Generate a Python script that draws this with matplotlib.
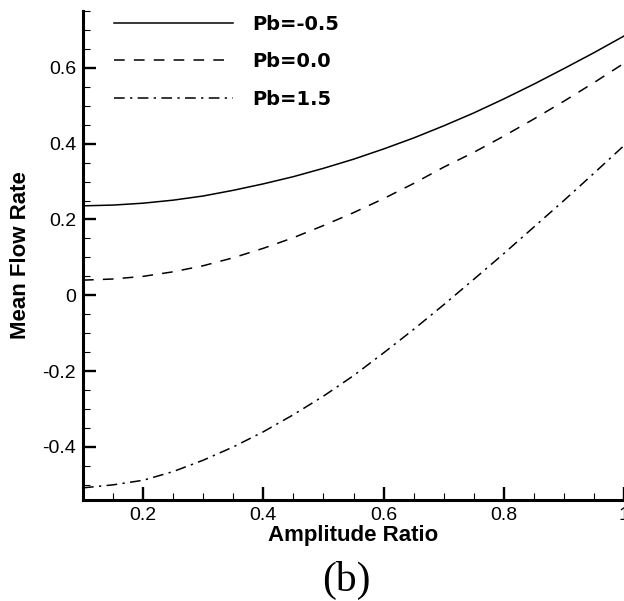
import matplotlib
matplotlib.use("Agg")
import matplotlib.pyplot as plt
from matplotlib.ticker import MultipleLocator, FuncFormatter

amplitude_ratio = [0.10, 0.15, 0.20, 0.25, 0.30, 0.35, 0.40, 0.45, 0.50, 0.55,
                   0.60, 0.65, 0.70, 0.75, 0.80, 0.85, 0.90, 0.95, 1.00]
flow_pb_m05 = [0.236, 0.238, 0.243, 0.251, 0.262, 0.277, 0.294, 0.313, 0.335, 0.359,
               0.386, 0.415, 0.447, 0.481, 0.518, 0.557, 0.598, 0.640, 0.684]
flow_pb_00 = [0.040, 0.043, 0.050, 0.062, 0.078, 0.099, 0.124, 0.152, 0.184, 0.218,
              0.255, 0.295, 0.338, 0.377, 0.420, 0.465, 0.512, 0.561, 0.612]
flow_pb_15 = [-0.508, -0.500, -0.488, -0.465, -0.435, -0.400, -0.360, -0.315, -0.266, -0.212,
              -0.152, -0.090, -0.025, 0.042, 0.110, 0.180, 0.250, 0.322, 0.395]
labels = ["Pb=-0.5", "Pb=0.0", "Pb=1.5"]

plt.rcParams['font.family'] = ['Liberation Sans', 'DejaVu Sans']

fig = plt.figure(figsize=(6.24, 6.01), dpi=100)
ax = fig.add_axes([83/624, 1-500/601, 1-83/624, (500-11)/601])

ax.plot(amplitude_ratio, flow_pb_m05, color='black', lw=1.1, ls='-', label=labels[0])
ax.plot(amplitude_ratio, flow_pb_00, color='black', lw=1.1, ls=(0, (7, 6)), label=labels[1])
ax.plot(amplitude_ratio, flow_pb_15, color='black', lw=1.1, ls=(0, (7, 3.5, 1.5, 3.5)), label=labels[2])

ax.set_xlim(0.1, 1.0)
ax.set_ylim(-0.54, 0.75)
ax.xaxis.set_major_locator(MultipleLocator(0.2))
ax.xaxis.set_minor_locator(MultipleLocator(0.05))
ax.yaxis.set_major_locator(MultipleLocator(0.2))
ax.yaxis.set_minor_locator(MultipleLocator(0.05))

def fmt(v, pos):
    if abs(v) < 1e-9:
        return "0"
    if abs(v - 1.0) < 1e-9:
        return "1"
    return f"{v:.1f}"
ax.xaxis.set_major_formatter(FuncFormatter(fmt))
ax.yaxis.set_major_formatter(FuncFormatter(fmt))

for s in ['top', 'right']:
    ax.spines[s].set_visible(False)
for s in ['left', 'bottom']:
    ax.spines[s].set_linewidth(2.2)

ax.tick_params(which='major', direction='in', length=9.5, width=1.7, labelsize=14)
ax.tick_params(which='minor', direction='in', length=5, width=0.8)
ax.tick_params(axis='y', which='major', pad=5)
ax.tick_params(axis='x', which='major', pad=5)

ax.set_xlabel("Amplitude Ratio", fontsize=16, fontweight='bold', labelpad=1)
ax.set_ylabel("Mean Flow Rate", fontsize=16, fontweight='bold', labelpad=8)

leg = ax.legend(loc='upper left', bbox_to_anchor=(0.025, 1.028), frameon=False,
                prop={'family': 'DejaVu Sans', 'weight': 'bold', 'size': 14},
                handlelength=6.1, handletextpad=1.0, labelspacing=0.95)

fig.text(346/624, 1-580/601, "(b)", fontsize=30, family=['Liberation Serif', 'DejaVu Serif'],
         ha='center', va='center')

fig.savefig("out.png", dpi=100)
